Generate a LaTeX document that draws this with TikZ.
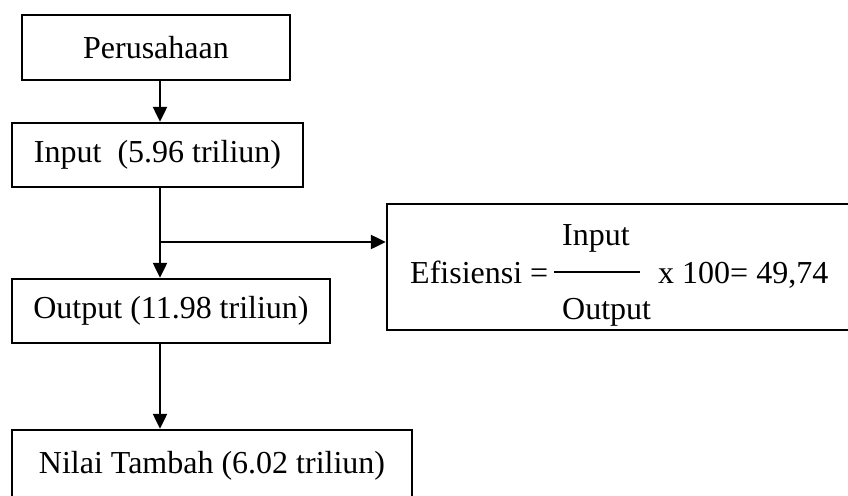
\documentclass[tikz,border=0pt]{standalone}
\usepackage{fontspec}
\setmainfont{Liberation Serif}
\usetikzlibrary{arrows.meta}
\begin{document}
\begin{tikzpicture}[x=1pt,y=-1pt,
  box/.style={draw,line width=2.5pt,inner sep=0pt,align=center,
    font=\fontsize{32}{38}\selectfont},
  txt/.style={inner sep=0pt,font=\fontsize{32}{38}\selectfont},
  arr/.style={line width=2.5pt,-{Triangle[length=15pt,width=14pt]}}]
\useasboundingbox (0,0) rectangle (848,495);
\clip (0,0) rectangle (848,495);
\node[box,minimum width=268pt,minimum height=65pt] (per) at (156,47.5) {Perusahaan};
\node[box,minimum width=291pt,minimum height=64pt] (inp) at (157.5,155) {Input\ \ (5.96 triliun)};
\node[box,minimum width=318pt,minimum height=64pt] (out) at (171,311) {Output (11.98 triliun)};
\node[box,minimum width=400pt,minimum height=72pt] (nil) at (212,466) {};
\node[txt,anchor=base] (niltxt) at (212,473) {Nilai Tambah (6.02 triliun)};
\node[box,minimum width=473pt,minimum height=126pt] (eff) at (623.5,267) {};
\node[txt,anchor=base west] (efl) at (410,283) {Efisiensi =};
\node[txt,anchor=base west] (fin) at (562,245) {Input};
\node[txt,anchor=base west] (fout) at (562,319) {Output};
\node[txt,anchor=base west] (fx) at (658,283) {x 100= 49,74};
\coordinate (fl1) at (554,272);
\coordinate (fl2) at (640,272);
\draw[line width=2pt] (fl1) -- (fl2);
\coordinate (ax) at (160,0);
\coordinate (br) at (160,242);
\draw[arr] (per.south -| ax) -- (inp.north -| ax);
\draw[arr] (inp.south -| ax) -- (out.north -| ax);
\draw[arr] (br) -- (br -| eff.west);
\draw[arr] (out.south -| ax) -- (nil.north -| ax);
\end{tikzpicture}
\end{document}
